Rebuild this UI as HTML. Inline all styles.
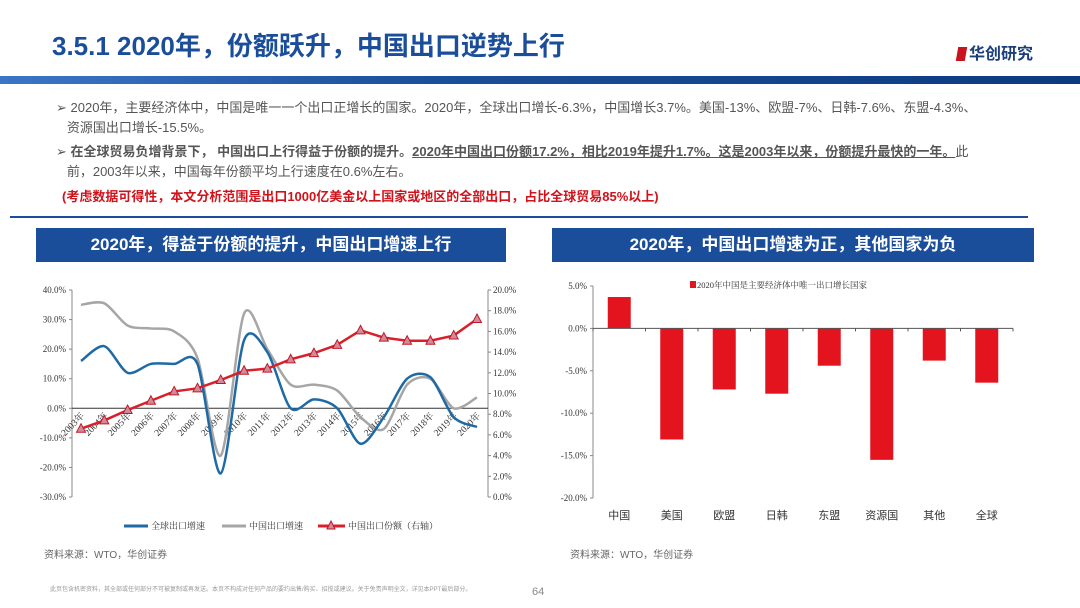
<!DOCTYPE html>
<html><head><meta charset="utf-8">
<style>
body{margin:0;width:1080px;height:608px;background:#fff;position:relative;overflow:hidden;font-family:"Liberation Sans","Noto Sans CJK SC",sans-serif;}
.abs{position:absolute;}
.t{font-size:13px;color:#555;line-height:20px;}
</style></head><body>
<div class="abs" style="left:52px;top:26px;font-size:26px;font-weight:bold;color:#1b4e9a;letter-spacing:0px;">3.5.1 2020年，份额跃升，中国出口逆势上行</div>
<div class="abs" style="left:957px;top:40px;font-size:16px;font-weight:bold;color:#1b3f7a;"><span style="display:inline-block;width:9px;height:14px;background:#c8141e;margin-right:3px;vertical-align:-2px;transform:skewX(-10deg)"></span>华创研究</div>
<div class="abs" style="left:0;top:76px;width:1080px;height:8px;background:linear-gradient(90deg,#3b76c4,#1b4e9a 40%,#0c3a80);"></div>
<div class="abs t" style="left:56px;top:98px;width:960px;">➢ 2020年，主要经济体中，中国是唯一一个出口正增长的国家。2020年，全球出口增长-6.3%，中国增长3.7%。美国-13%、欧盟-7%、日韩-7.6%、东盟-4.3%、<br>&nbsp;&nbsp;&nbsp;资源国出口增长-15.5%。</div>
<div class="abs t" style="left:56px;top:142px;width:970px;">➢ <b>在全球贸易负增背景下，&nbsp;中国出口上行得益于份额的提升。<u>2020年中国出口份额17.2%，相比2019年提升1.7%。这是2003年以来，份额提升最快的一年。</u></b>此<br>&nbsp;&nbsp;&nbsp;前，2003年以来，中国每年份额平均上行速度在0.6%左右。</div>
<div class="abs" style="left:62px;top:186px;font-size:13px;font-weight:bold;color:#d0121b;">(考虑数据可得性，本文分析范围是出口1000亿美金以上国家或地区的全部出口，占比全球贸易85%以上)</div>
<div class="abs" style="left:10px;top:216px;width:1018px;height:2px;background:#1b4e9a;"></div>
<div class="abs" style="left:36px;top:228px;width:470px;height:34px;background:#1b4e9a;color:#fff;font-size:17px;font-weight:bold;text-align:center;line-height:34px;">2020年，得益于份额的提升，中国出口增速上行</div>
<div class="abs" style="left:552px;top:228px;width:482px;height:34px;background:#1b4e9a;color:#fff;font-size:17px;font-weight:bold;text-align:center;line-height:34px;">2020年，中国出口增速为正，其他国家为负</div>
<svg class="abs" style="left:0;top:0" width="1080" height="608" id="svg"></svg>
<div class="abs" style="left:44px;top:546px;font-size:10px;color:#666;">资料来源：WTO，华创证券</div>
<div class="abs" style="left:570px;top:546px;font-size:10px;color:#666;">资料来源：WTO，华创证券</div>
<div class="abs" style="left:50px;top:584px;font-size:6px;color:#999;">此页包含机密资料，其全部或任何部分不可被复制或再发送。本页不构成对任何产品的要约出售/购买、招揽或建议。关于免责声明全文，详见本PPT最后部分。</div>
<div class="abs" style="left:532px;top:586px;font-size:11px;color:#888;">64</div>
<script>
const years=["2003年","2004年","2005年","2006年","2007年","2008年","2009年","2010年","2011年","2012年","2013年","2014年","2015年","2016年","2017年","2018年","2019年","2020年"];
const globalGrowth=[16,21,12,15,15,15,-22,23,19,0,3,0,-12,-3,10,10.5,-3,-6.3];
const chinaGrowth=[35,35.5,28,27,26,17,-16,32,20,8,8,6,-3,-7,8,10,0,3.7];
const chinaShare=[6.6,7.4,8.4,9.3,10.2,10.5,11.3,12.2,12.4,13.3,13.9,14.7,16.1,15.4,15.1,15.1,15.6,17.2];
const leftTicks=[40,30,20,10,0,-10,-20,-30];
const rightTicks=[20,18,16,14,12,10,8,6,4,2,0];
const regions=["中国","美国","欧盟","日韩","东盟","资源国","其他","全球"];
const regionGrowth=[3.7,-13.1,-7.2,-7.7,-4.4,-15.5,-3.8,-6.4];
const barTicks=[5,0,-5,-10,-15,-20];

const svg=document.getElementById('svg');const NS='http://www.w3.org/2000/svg';
function mk(tag,attrs,name,parent){const e=document.createElementNS(NS,tag);for(const k in attrs)e.setAttribute(k,attrs[k]);


(parent||svg).appendChild(e);return e;}
function txt(x,y,s,attrs,name){const e=mk('text',Object.assign({x:x,y:y,'font-size':9,fill:'#333','font-family':'Liberation Serif,Noto Serif CJK SC,serif'},attrs),name);e.textContent=s;return e;}
const LX0=72,LX1=488,LT=290,LB=497;
const xL=i=>81+i*(477-81)/(years.length-1);
const yL=v=>LT+(40-v)/70*(LB-LT);
const yR=v=>LT+(20-v)/20*(LB-LT);
mk('line',{x1:LX0,x2:LX0,y1:LT,y2:LB,stroke:'#888'},'left-y-axis');
mk('line',{x1:LX1,x2:LX1,y1:LT,y2:LB,stroke:'#888'},'right-y-axis');
mk('line',{x1:LX0,x2:LX1,y1:yL(0),y2:yL(0),stroke:'#333'},'x-axis-zero');
leftTicks.forEach(v=>{mk('line',{x1:LX0-3,x2:LX0,y1:yL(v),y2:yL(v),stroke:'#888'},'left-tick');txt(LX0-6,yL(v)+3,v.toFixed(1)+'%',{'text-anchor':'end'},'left-tick-label');});
rightTicks.forEach(v=>{mk('line',{x1:LX1,x2:LX1+3,y1:yR(v),y2:yR(v),stroke:'#888'},'right-tick');txt(LX1+5,yR(v)+3,v.toFixed(1)+'%',{},'right-tick-label');});
years.forEach((y,i)=>{txt(xL(i)+4,yL(0)+8,y,{'text-anchor':'end','font-size':9.5,transform:`rotate(-45 ${xL(i)+4} ${yL(0)+8})`},'x-tick-label');});
function smooth(pts){let d=`M${pts[0][0]},${pts[0][1]}`;const k=7;for(let i=0;i<pts.length-1;i++){const p0=pts[i-1]||pts[i],p1=pts[i],p2=pts[i+1],p3=pts[i+2]||p2;
d+=` C${p1[0]+(p2[0]-p0[0])/k},${p1[1]+(p2[1]-p0[1])/k} ${p2[0]-(p3[0]-p1[0])/k},${p2[1]-(p3[1]-p1[1])/k} ${p2[0]},${p2[1]}`;}return d;}
mk('path',{d:smooth(chinaGrowth.map((v,i)=>[xL(i),yL(v)])),fill:'none',stroke:'#a6a6a6','stroke-width':2.5},'china-growth-line');
mk('path',{d:smooth(globalGrowth.map((v,i)=>[xL(i),yL(v)])),fill:'none',stroke:'#1f6aa5','stroke-width':2.5},'global-growth-line');
mk('polyline',{points:chinaShare.map((v,i)=>xL(i)+','+yR(v)).join(' '),fill:'none',stroke:'#d9202a','stroke-width':2.5},'china-share-line');
chinaShare.forEach((v,i)=>{const x=xL(i),y=yR(v);mk('polygon',{points:`${x},${y-5} ${x-4.5},${y+3.5} ${x+4.5},${y+3.5}`,fill:'#d08a9a',stroke:'#c0182a','stroke-width':1},'china-share-marker');});
mk('line',{x1:124,x2:148,y1:526,y2:526,stroke:'#1f6aa5','stroke-width':3},'legend-global-swatch');txt(151,529,'全球出口增速',{},'legend-global');
mk('line',{x1:222,x2:246,y1:526,y2:526,stroke:'#a6a6a6','stroke-width':3},'legend-china-growth-swatch');txt(249,529,'中国出口增速',{},'legend-china-growth');
mk('line',{x1:318,x2:345,y1:526,y2:526,stroke:'#d9202a','stroke-width':3},'legend-share-swatch');
mk('polygon',{points:'331,521 327,529 335,529',fill:'#d08a9a',stroke:'#c0182a'},'legend-share-marker');txt(348,529,'中国出口份额（右轴）',{},'legend-share');
const RX0=593,RX1=1013,RT=286,RB=498;
const yB=v=>RT+(5-v)/25*(RB-RT);
const bw=(RX1-RX0)/regions.length;
mk('line',{x1:RX0,x2:RX0,y1:RT,y2:RB,stroke:'#888'},'bar-y-axis');
barTicks.forEach(v=>{mk('line',{x1:RX0-3,x2:RX0,y1:yB(v),y2:yB(v),stroke:'#888'},'bar-y-tick');txt(RX0-6,yB(v)+3,v.toFixed(1)+'%',{'text-anchor':'end'},'bar-y-tick-label');});
regionGrowth.forEach((v,i)=>{const cx=RX0+bw*(i+0.5);const y0=yB(Math.max(v,0)),y1=yB(Math.min(v,0));
mk('rect',{x:cx-11.5,y:y0,width:23,height:y1-y0,fill:'#e3141e'},'bar-'+i);
txt(cx,519,regions[i],{'text-anchor':'middle','font-size':11,'font-family':'Liberation Sans,Noto Sans CJK SC,sans-serif'},'bar-x-label');});
mk('line',{x1:RX0,x2:RX1,y1:yB(0),y2:yB(0),stroke:'#555'},'bar-x-axis');
for(let i=0;i<=regions.length;i++)mk('line',{x1:RX0+bw*i,x2:RX0+bw*i,y1:yB(0),y2:yB(0)+3,stroke:'#555'},'bar-x-tick');
mk('rect',{x:690,y:281,width:6,height:7,fill:'#e3141e'},'bar-legend-swatch');
txt(697,288,'2020年中国是主要经济体中唯一出口增长国家',{'font-size':8.5},'bar-legend');
</script>
</body></html>
